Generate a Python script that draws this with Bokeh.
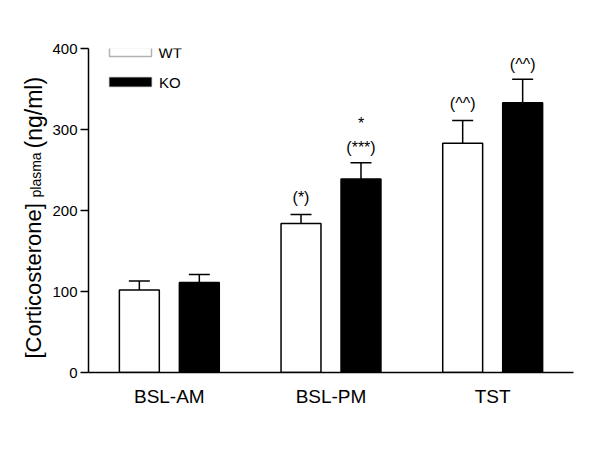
import math
from bokeh.plotting import figure
from bokeh.layouts import row
from bokeh.models import (ColumnDataSource, FactorRange, Range1d, FixedTicker,
                          Whisker, TeeHead, Label, BoxAnnotation)
from bokeh.transform import dodge
from bokeh.core.properties import value
from bokeh.embed import file_html
from bokeh.resources import INLINE

# ---- data ----
categories = ["BSL-AM", "BSL-PM", "TST"]
wt_mean = [102, 184, 283]
wt_err = [11, 11, 28]
ko_mean = [111, 239, 333]
ko_err = [10, 20, 29]
wt_marks = ["", "(*)", "(^^)"]
ko_marks = ["", "(***)", "(^^)"]
ko_marks_top = ["", "*", ""]
y_ticks = [0, 100, 200, 300, 400]

FONT = "Liberation Sans"
H = 451
SIDE_W = 48

src = ColumnDataSource(dict(
    cat=categories,
    wt=wt_mean,
    wt_hi=[m + e for m, e in zip(wt_mean, wt_err)],
    ko=ko_mean,
    ko_hi=[m + e for m, e in zip(ko_mean, ko_err)],
    wt_mark=wt_marks,
    ko_mark=ko_marks,
    ko_mark2=ko_marks_top,
))

# ---- side panel carrying the rotated y-axis title ----
side = figure(width=SIDE_W, height=H, output_backend="svg", toolbar_location=None,
              x_range=Range1d(0, 1), y_range=Range1d(0, 1),
              min_border_left=0, min_border_right=0, min_border_top=0,
              min_border_bottom=0, x_axis_location=None, y_axis_location=None)
side.outline_line_color = None
side.grid.grid_line_color = None
side.background_fill_color = "white"
side.border_fill_color = "white"

ang = math.pi / 2
side.add_layout(Label(x=32.5, y=14, x_units="screen", y_units="screen",
                      text="[Corticosterone]", angle=ang, text_align="left",
                      text_baseline="alphabetic", text_font=FONT,
                      text_font_size="22px", text_color="black"))
side.add_layout(Label(x=35.5, y=175, x_units="screen", y_units="screen",
                      text="plasma", angle=ang, text_align="left",
                      text_baseline="alphabetic", text_font=FONT,
                      text_font_size="14px", text_color="black"))
side.add_layout(Label(x=33, y=224, x_units="screen", y_units="screen",
                      text="(ng/ml)", angle=ang, text_align="left",
                      text_baseline="alphabetic", text_font=FONT,
                      text_font_size="23px", text_color="black"))

# ---- main chart ----
p = figure(width=600 - SIDE_W, height=H, output_backend="svg", toolbar_location=None,
           x_range=FactorRange(factors=categories, range_padding=0),
           y_range=Range1d(0, 400),
           min_border_left=88 - SIDE_W, min_border_right=27,
           min_border_top=48, min_border_bottom=79)
p.outline_line_color = None
p.xgrid.grid_line_color = None
p.ygrid.grid_line_color = None
p.background_fill_color = "white"
p.border_fill_color = "white"

OFF = 0.1855
BW = 0.247

p.vbar(x=dodge("cat", -OFF, range=p.x_range), top="wt", width=BW, bottom=0,
       source=src, fill_color="white", line_color="black", line_width=1.5)
p.vbar(x=dodge("cat", OFF, range=p.x_range), top="ko", width=BW, bottom=0,
       source=src, fill_color="black", line_color="black", line_width=1.5)

for off, lo, hi in [(-OFF, "wt", "wt_hi"), (OFF, "ko", "ko_hi")]:
    w = Whisker(base=dodge("cat", off, range=p.x_range), lower=lo, upper=hi,
                source=src, line_color="black", line_width=1.5,
                lower_head=None,
                upper_head=TeeHead(size=21, line_color="black", line_width=1.5))
    p.add_layout(w)

p.text(x=dodge("cat", -OFF, range=p.x_range), y="wt_hi", text="wt_mark", source=src,
       y_offset=-17, text_align="center", text_baseline="middle",
       text_font=value(FONT), text_font_size="16px", text_color="black")
p.text(x=dodge("cat", OFF, range=p.x_range), y="ko_hi", text="ko_mark", source=src,
       y_offset=-15, text_align="center", text_baseline="middle",
       text_font=value(FONT), text_font_size="16px", text_color="black")
p.text(x=dodge("cat", OFF, range=p.x_range), y="ko_hi", text="ko_mark2", source=src,
       y_offset=-39, text_align="center", text_baseline="middle",
       text_font=value(FONT), text_font_size="16px", text_color="black")

# axes
p.yaxis.ticker = FixedTicker(ticks=y_ticks)
p.yaxis.minor_tick_line_color = None
p.yaxis.major_tick_in = 0
p.yaxis.major_tick_out = 8
p.yaxis.major_tick_line_width = 1.5
p.yaxis.axis_line_width = 1.5
p.yaxis.major_label_standoff = 3
p.yaxis.major_label_text_font = FONT
p.yaxis.major_label_text_font_size = "15px"
p.yaxis.major_label_text_color = "black"

p.xaxis.major_tick_line_color = None
p.xaxis.minor_tick_line_color = None
p.xaxis.axis_line_width = 1.5
p.xaxis.major_label_standoff = 7
p.xaxis.major_label_text_font = FONT
p.xaxis.major_label_text_font_size = "19px"
p.xaxis.major_label_text_color = "black"

# legend (drawn by hand to match the flat swatches)
p.add_layout(BoxAnnotation(left=21, right=63, top=325, bottom=316,
                           left_units="screen", right_units="screen",
                           top_units="screen", bottom_units="screen",
                           fill_color="white", fill_alpha=1,
                           line_color="black", line_width=1.5))
p.add_layout(BoxAnnotation(left=21, right=63, top=295, bottom=286,
                           left_units="screen", right_units="screen",
                           top_units="screen", bottom_units="screen",
                           fill_color="black", fill_alpha=1,
                           line_color="black", line_width=1.5))
p.add_layout(Label(x=70, y=320.5, x_units="screen", y_units="screen",
                   text="WT", text_baseline="middle", text_font=FONT,
                   text_font_size="15px", text_color="black"))
p.add_layout(Label(x=70.5, y=290.5, x_units="screen", y_units="screen",
                   text="KO", text_baseline="middle", text_font=FONT,
                   text_font_size="15px", text_color="black"))

layout = row(side, p, spacing=0)
open("out.html", "w").write(file_html(layout, INLINE))
